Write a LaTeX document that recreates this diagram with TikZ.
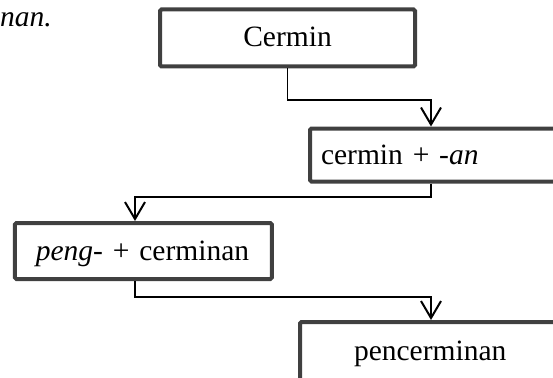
\documentclass[tikz,border=0pt]{standalone}
\usepackage{fontspec}
\setmainfont{Liberation Serif}
\usetikzlibrary{arrows.meta}
\definecolor{boxgray}{RGB}{64,64,64}
\begin{document}
\begin{tikzpicture}[x=1pt,y=-1pt,
  wordbox/.style={draw=boxgray,line width=4pt,rounded corners=1.5pt,inner ysep=0pt,
    font=\fontsize{29.5}{34}\selectfont,text height=20pt,text depth=2pt},
  link/.style={line width=1.2pt,-{Straight Barb[length=17pt,width=20pt,line width=2pt]}}]
\useasboundingbox (0,0) rectangle (553,377);
\clip (0,0) rectangle (553,377);
\path
  coordinate (bend1) at (431,100)
  coordinate (bend2) at (431,197)
  coordinate (bend3) at (135,197)
  coordinate (bend4) at (135,297)
  coordinate (bend5) at (431,297)
  ;
\node[anchor=base west,inner sep=0pt,font=\fontsize{29.5}{34}\selectfont\itshape] (prev) at (0,27) {nan.};
\node[wordbox,minimum width=255pt,minimum height=57pt] (cermin) at (287.5,38) {Cermin};
\node[wordbox,anchor=west,minimum height=53pt,text width=260pt,align=left,inner xsep=11pt]
  (cerminan) at (308,155) {cermin + \textit{-an}};
\node[wordbox,minimum height=56pt,text width=215pt,align=left,inner xsep=21pt]
  (peng) at (143.4,251) {\textit{peng-} + cerminan};
\node[wordbox,anchor=north west,text height=38pt,text depth=30pt,text width=220pt,align=left,inner xsep=54pt]
  (pencerminan) at (298,320) {pencerminan};
\draw[link] (cermin.south) |- (bend1) -- (bend1 |- cerminan.north);
\draw[link] (bend2 |- cerminan.south) -- (bend2) -- (bend3) -- (bend3 |- peng.north);
\draw[link] (bend4 |- peng.south) -- (bend4) -- (bend5) -- (bend5 |- pencerminan.north);
\end{tikzpicture}
\end{document}
